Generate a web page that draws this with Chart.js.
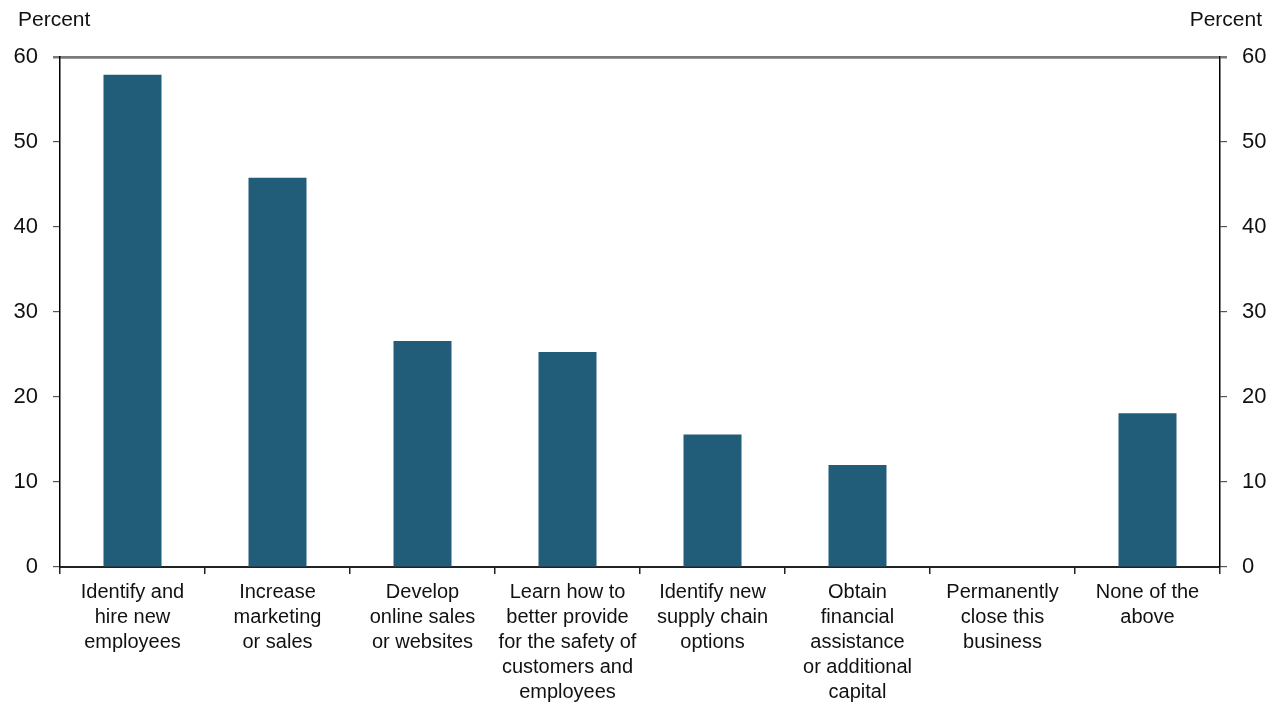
<!DOCTYPE html>
<html>
<head>
<meta charset="utf-8">
<script src="https://cdn.jsdelivr.net/npm/chart.js@4"></script>
<style>
  html, body { margin: 0; padding: 0; background: #fff; }
</style>
</head>
<body>
<canvas id="grafico" width="1280" height="702"></canvas>
<script>
const categorias = [
  ['Identify and', 'hire new', 'employees'],
  ['Increase', 'marketing', 'or sales'],
  ['Develop', 'online sales', 'or websites'],
  ['Learn how to', 'better provide', 'for the safety of', 'customers and', 'employees'],
  ['Identify new', 'supply chain', 'options'],
  ['Obtain', 'financial', 'assistance', 'or additional', 'capital'],
  ['Permanently', 'close this', 'business'],
  ['None of the', 'above']
];
const percentuais = [57.9, 45.8, 26.6, 25.3, 15.6, 12.0, 0, 18.1];
const eixoY = [0, 10, 20, 30, 40, 50, 60];
const tituloEixo = 'Percent';

const fonte = "'Liberation Sans', Arial, sans-serif";

// escreve "Percent" em cima de cada eixo
const titulos = {
  id: 'titulos',
  afterDraw(chart) {
    const c = chart.ctx;
    c.save();
    c.font = '21px ' + fonte;
    c.fillStyle = '#111';
    c.textBaseline = 'middle';
    c.textAlign = 'left';
    c.fillText(tituloEixo, 18, 20);
    c.textAlign = 'right';
    c.fillText(tituloEixo, 1262, 20);
    c.restore();
  }
};

const eixoComum = {
  min: eixoY[0],
  max: eixoY[eixoY.length - 1],
  border: { display: true, color: '#000', width: 1.5 },
  grid: {
    drawOnChartArea: true,
    tickLength: 7,
    color: (c) => c.tick && c.tick.value === 60 ? '#7a7a7a' : 'rgba(0,0,0,0)',
    tickColor: (c) => c.tick && c.tick.value === 60 ? '#7a7a7a' : '#555',
    lineWidth: (c) => c.tick && c.tick.value === 60 ? 2.5 : 1.2
  },
  ticks: {
    stepSize: 10,
    color: '#111',
    padding: 15,
    font: { size: 22, family: fonte }
  },
  afterBuildTicks: (s) => { s.ticks = eixoY.map(v => ({ value: v })); },
  afterFit: (s) => { s.width = 60; }
};

new Chart(document.getElementById('grafico'), {
  type: 'bar',
  data: {
    labels: categorias,
    datasets: [{
      label: tituloEixo,
      data: percentuais,
      backgroundColor: '#215d78',
      borderWidth: 0,
      barPercentage: 0.4,
      categoryPercentage: 1.0,
      yAxisID: 'y'
    }]
  },
  options: {
    responsive: false,
    animation: false,
    devicePixelRatio: 1,
    layout: { padding: { top: 57, left: 0, right: 0, bottom: 0 } },
    plugins: {
      legend: { display: false },
      tooltip: { enabled: false }
    },
    scales: {
      x: {
        border: { display: true, color: '#222', width: 2 },
        grid: {
          offset: true,
          drawOnChartArea: false,
          tickLength: 7,
          color: '#222',
          lineWidth: 1.5
        },
        ticks: {
          color: '#111',
          padding: 6,
          maxRotation: 0,
          autoSkip: false,
          font: { size: 20, family: fonte, lineHeight: 1.25 }
        },
        afterFit: (s) => { s.height = 135; }
      },
      y: Object.assign({ position: 'left' }, eixoComum),
      y2: Object.assign({ position: 'right' }, eixoComum)
    }
  },
  plugins: [titulos]
});
</script>
</body>
</html>
